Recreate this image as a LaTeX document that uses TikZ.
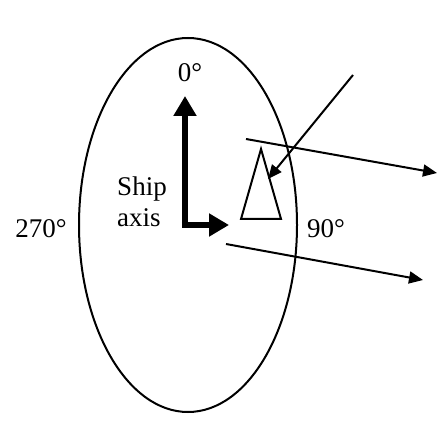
\documentclass[tikz,border=0pt]{standalone}
\usepackage{fontspec}
\setmainfont{Liberation Serif}
\usetikzlibrary{arrows.meta,positioning}

\begin{document}
\begin{tikzpicture}[
  x=1pt, y=-1pt,
  font=\fontsize{27}{31}\selectfont,
  lbl/.style={inner sep=1pt},
  rim/.style={draw=black, line width=2pt},
  ray/.style={-{Triangle[length=14pt,width=12pt]}, line width=2pt},
  axisarr/.style={-{Triangle[length=20pt,width=22pt]}, line width=6.5pt}]

\useasboundingbox (0,0) rectangle (438,435);

% ===== field of view =====
\draw[rim] (188,225) ellipse [x radius=109, y radius=187];

% ===== ship axis =====
\coordinate (org) at (185,225);
\coordinate (bow) at (185,96);
\coordinate (stb) at (229,225);
\draw[axisarr] (org) -- (bow);
\draw[axisarr] ([xshift=-3.25pt]org) -- (stb);

% ===== target =====
\coordinate (tA) at (261,149);
\coordinate (tB) at (241,219);
\coordinate (tC) at (281,219);
\draw[rim] (tA) -- (tB) -- (tC) -- cycle;

% ===== rays =====
\coordinate (in0) at (353,75);
\coordinate (in1) at (268,179);
\coordinate (r1a) at (246,139);
\coordinate (r1b) at (437,173);
\coordinate (r2a) at (226,244);
\coordinate (r2b) at (423,280);
\draw[ray] (in0) -- (in1);
\draw[ray] (r1a) -- (r1b);
\draw[ray] (r2a) -- (r2b);

% ===== labels =====
\node[lbl] (n0)   at (190,73)  {0°};
\node[lbl] (n90)  at (326,229) {90°};
\node[lbl] (n270) at (41,229)  {270°};
\node[lbl, align=left] (ship) at (142,202) {Ship\\axis};

\end{tikzpicture}
\end{document}
